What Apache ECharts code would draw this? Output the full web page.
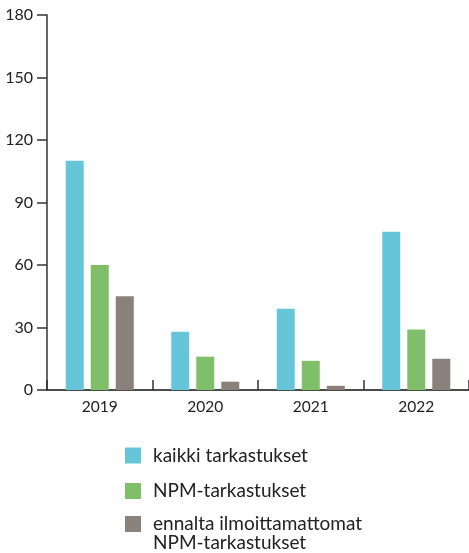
<!DOCTYPE html>
<html>
<head>
<meta charset="utf-8">
<script src="https://cdn.jsdelivr.net/npm/echarts@6/dist/echarts.min.js"></script>
<style>
  html, body { margin: 0; padding: 0; background: #fff; }
  #chart { width: 469px; height: 553px; }
</style>
</head>
<body>
<div id="chart"></div>
<script>
// data
var years = ['2019', '2020', '2021', '2022'];
var kaikki = [110, 28, 39, 76];
var npm = [60, 16, 14, 29];
var ennalta = [45, 4, 2, 15];
var names = ['kaikki tarkastukset', 'NPM-tarkastukset', 'ennalta ilmoittamattomat\nNPM-tarkastukset'];
var colors = ['#66C5D9', '#80BF6A', '#8A807C'];

var chart = echarts.init(document.getElementById('chart'));
var font = 'Lato';

var legendText = {
  fontFamily: font,
  fontSize: 19,
  color: '#222',
  lineHeight: 19,
  padding: [0, 0, 0, 7]
};

var option = {
  animation: false,
  color: colors,
  grid: { left: 47, top: 15, right: 0, bottom: 163, containLabel: false },
  legend: [
    {
      orient: 'vertical',
      left: 125,
      top: 446,
      padding: 0,
      itemWidth: 16,
      itemHeight: 16,
      itemGap: 16.5,
      icon: 'rect',
      textStyle: legendText,
      data: [names[0], names[1]]
    },
    {
      orient: 'vertical',
      left: 125,
      top: 495.5,
      padding: 0,
      itemWidth: 16,
      itemHeight: 16,
      icon: 'rect',
      textStyle: legendText,
      // extra blank line on top so the icon sits at the first text line
      formatter: function (name) { return '\n' + name; },
      data: [names[2]]
    }
  ],
  xAxis: {
    type: 'category',
    data: years,
    axisLine: { lineStyle: { color: '#111', width: 1.5 } },
    axisTick: { show: true, inside: true, length: 10, lineStyle: { color: '#333', width: 1.5 } },
    axisLabel: { fontFamily: font, fontSize: 15.5, color: '#222', margin: 9 }
  },
  yAxis: {
    type: 'value',
    min: 0,
    max: 180,
    interval: 30,
    splitLine: { show: false },
    axisLine: { show: true, lineStyle: { color: '#333', width: 1.5 } },
    axisTick: { show: true, length: 10, lineStyle: { color: '#333', width: 1.5 } },
    axisLabel: { fontFamily: font, fontSize: 16, color: '#222', margin: 14 }
  },
  series: [
    { name: names[0], type: 'bar', data: kaikki, barWidth: 18, barGap: '39%' },
    { name: names[1], type: 'bar', data: npm, barWidth: 18, barGap: '39%' },
    { name: names[2], type: 'bar', data: ennalta, barWidth: 18, barGap: '39%' }
  ]
};

chart.setOption(option);
</script>
</body>
</html>
